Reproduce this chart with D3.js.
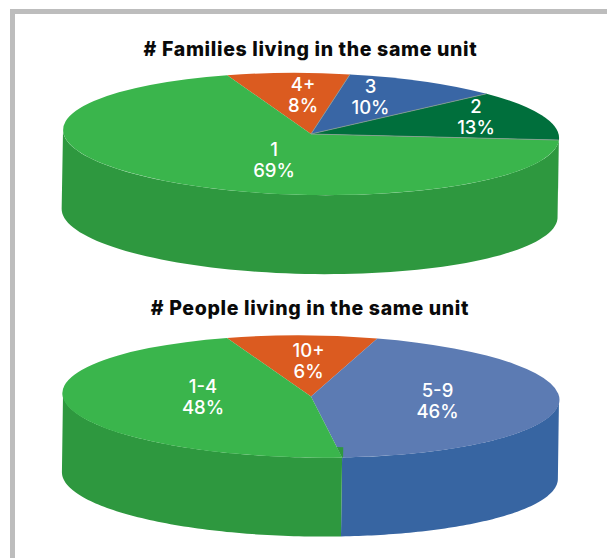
<!DOCTYPE html>
<html><head><meta charset="utf-8">
<script src="https://cdn.jsdelivr.net/npm/d3@7/dist/d3.min.js"></script>
<style>html,body{margin:0;background:#fff}svg{display:block}</style></head>
<body><script>
const families_categories = ["4+","3","2","1"];
const families_shares = [8,10,13,69];
const families_labels = ["8%","10%","13%","69%"];
const families_top = ["#db5b20","#3966a5","#006f3c","#3ab54c"];
const families_side = ["#c4501c","#345f9c","#00602f","#2e983f"];

const people_categories = ["10+","5-9","1-4"];
// shares as drawn in the picture: the slices are not to the scale of their printed percentages
const people_shares = [9.8,43.7,46.5];
const people_labels = ["6%","46%","48%"];
const people_top = ["#db5b20","#5c7bb3","#3ab54c"];
const people_side = ["#c4501c","#3765a2","#2e983f"];

const W=607,H=558, rx=248, ry=61, depth=79;
const svg=d3.select("body").append("svg").attr("width",W).attr("height",H);
svg.append("path").attr("d",`M12.5 ${H}V11.5H${W}`).attr("fill","none").attr("stroke","#bdbdbd").attr("stroke-width",5);

const font="Inter, 'Open Sans', sans-serif";
function drawPie(o){
  const g=svg.append("g").attr("transform",`translate(${o.cx},${o.cy}) rotate(${o.tilt})`);
  const x=d3.scaleLinear().domain([-1,1]).range([-rx,rx]);
  const y=d3.scaleLinear().domain([-1,1]).range([-ry,ry]);
  const arcs=d3.pie().sort(null).startAngle(o.start*Math.PI/180).endAngle((o.start+360)*Math.PI/180)(o.values);
  const pt=a=>[x(Math.sin(a)),y(-Math.cos(a))];
  const line=d3.line();
  arcs.forEach((d,i)=>{
    [0,-2*Math.PI,2*Math.PI].forEach(w=>{
      const s=Math.max(d.startAngle+w,Math.PI/2), e=Math.min(d.endAngle+w,3*Math.PI/2);
      if(e<=s) return;
      const n=80, ang=d3.range(n+1).map(k=>s+(e-s)*k/n);
      const top=ang.map(pt), bot=ang.map(pt).reverse().map(([px,py])=>[px,py+depth]);
      g.append("path").attr("d",line(top.concat(bot))+"Z").attr("fill",o.side[i]);
    });
  });
  const arc=d3.arc().innerRadius(0).outerRadius(1);
  g.append("g").attr("transform",`scale(${rx},${ry})`).selectAll("path").data(arcs).join("path")
    .attr("d",arc).attr("fill",(d,i)=>o.top[i]);
  // hairline seams between chosen slices
  (o.seams||[]).forEach(i=>{
    g.append("path").attr("d",line([[0,0],pt(arcs[i].startAngle)])).attr("stroke","#8a9a96").attr("stroke-width",0.8).attr("fill","none");
  });
  // small patch of side colour showing on the top face beside the last slice's first spoke
  if(o.notch!=null){
    const r=pt(arcs[o.notch].startAngle), f=0.83, s=[r[0]*f,r[1]*f];
    g.append("path").attr("d",line([s,[r[0]+1,s[1]],[r[0]+1,r[1]],r])+"Z").attr("fill",o.side[o.notch]);
  }
  svg.append("text").attr("x",o.titleX).attr("y",o.titleY).attr("text-anchor","middle")
    .attr("font-family",font).attr("font-weight",800).attr("font-size",19.5).attr("letter-spacing",0.65).attr("fill","#0a0a0a").text(o.title);
  const t=svg.append("g").attr("font-family",font).attr("font-weight",500).attr("font-size",18.5).attr("fill","#fff").attr("text-anchor","middle");
  o.cats.forEach((c,i)=>{
    t.append("text").attr("x",o.pos[i][0]).attr("y",o.pos[i][1]).text(c);
    t.append("text").attr("x",o.pos[i][0]).attr("y",o.pos[i][1]+o.pos[i][2]).text(o.labels[i]);
  });
}
drawPie({title:"# Families living in the same unit",titleX:310.5,titleY:56,cx:311,cy:134,tilt:1,start:-20,
  values:families_shares,cats:families_categories,labels:families_labels,top:families_top,side:families_side,seams:[1,2,3],
  pos:[[303,91,21],[370.5,92.5,21],[476,113,21],[274,155.5,21]]});
drawPie({title:"# People living in the same unit",titleX:310,titleY:315,cx:311,cy:396.5,tilt:0.8,start:-20,
  values:people_shares,cats:people_categories,labels:people_labels,top:people_top,side:people_side,notch:2,
  pos:[[308.5,357,21],[437.5,396.5,21],[203,393,21]]});
</script></body></html>
